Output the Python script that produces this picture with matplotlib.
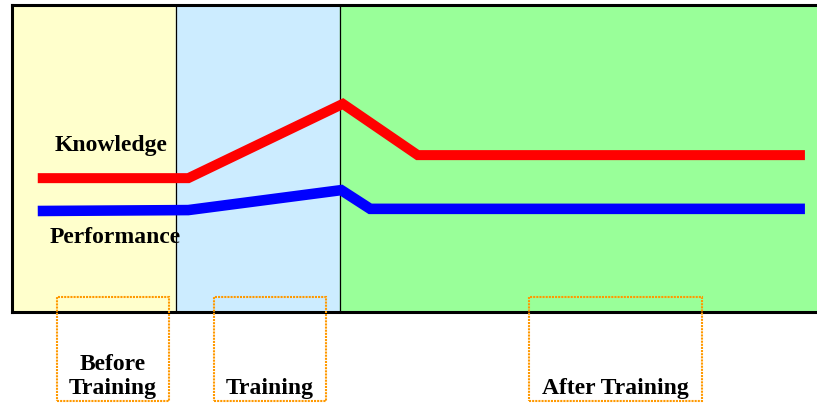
import matplotlib
matplotlib.use("Agg")
import matplotlib.pyplot as plt
from matplotlib.patches import Rectangle

# phases along the time axis (0-100 across the chart)
phase_edges = [0, 20.4, 40.7, 100]
phase_colors = ['#FFFFCC', '#CCECFF', '#99FF99']
phase_labels = ['Before\nTraining', 'Training', 'After Training']
# label boxes below the chart (x from, x to)
label_box_x0 = [5.6, 25.1, 64.2]
label_box_x1 = [19.5, 39.0, 85.7]

# levels (0-100)
knowledge_x = [3.2, 21.9, 41.1, 50.4, 98.5]
knowledge_y = [43.6, 43.6, 67.8, 51.1, 51.1]
performance_x = [3.2, 21.9, 40.9, 44.5, 98.5]
performance_y = [32.9, 33.2, 39.7, 33.6, 33.6]

W, H = 817, 404
fig = plt.figure(figsize=(W / 100, H / 100), dpi=100)
ax = fig.add_axes([12 / W, (H - 312) / H, (W - 12) / W, 307 / H])
ax.set_xlim(0, 100)
ax.set_ylim(0, 100)

for i in range(3):
    ax.axvspan(phase_edges[i], phase_edges[i + 1], color=phase_colors[i], zorder=0)
for x in phase_edges[1:-1]:
    ax.axvline(x, color='black', lw=0.9, zorder=1)

ax.plot(knowledge_x, knowledge_y, color='#FF0000', lw=7.2, solid_joinstyle='miter',
        solid_capstyle='butt', zorder=3)
ax.plot(performance_x, performance_y, color='#0000FF', lw=7.6, solid_joinstyle='miter',
        solid_capstyle='butt', zorder=3)

font = dict(family=['Liberation Serif', 'DejaVu Serif'], weight='bold', size=17)
ax.text(12.3, 54.2, 'Knowledge', ha='center', va='center', **font)
ax.text(12.8, 24.4, 'Performance', ha='center', va='center', **font)

for x0, x1, lab in zip(label_box_x0, label_box_x1, phase_labels):
    ax.add_patch(Rectangle((x0, -29.0), x1 - x0, 33.9, fill=False, ec='#FF9900',
                           lw=1.5, ls=(0, (1, 0.5)), clip_on=False, zorder=4))
    ax.text((x0 + x1) / 2, -28.3, lab, ha='center', va='bottom', linespacing=1.2,
            clip_on=False, **font)

ax.set_xticks([])
ax.set_yticks([])
for side in ['left', 'top', 'bottom']:
    ax.spines[side].set_linewidth(2.2)
ax.spines['right'].set_visible(False)

fig.savefig('out.png', dpi=100)
